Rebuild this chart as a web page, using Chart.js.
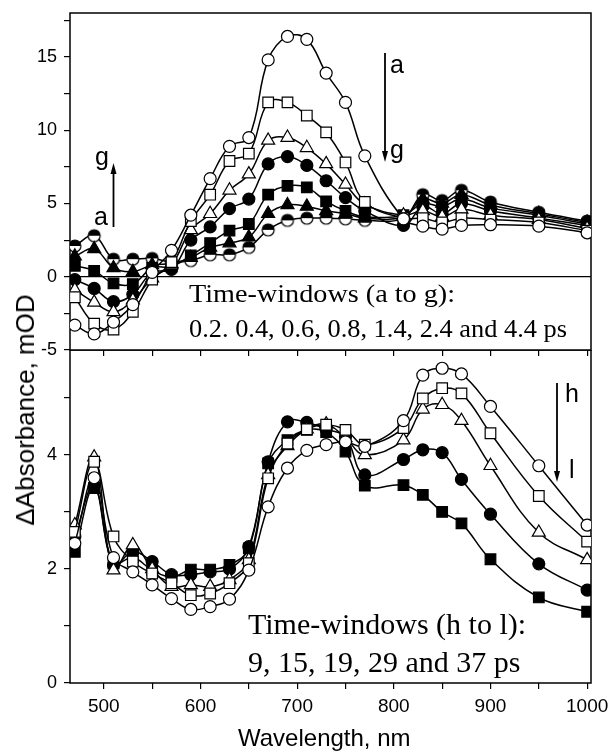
<!DOCTYPE html>
<html>
<head>
<meta charset="utf-8">
<script src="https://cdn.jsdelivr.net/npm/chart.js@4.4.0/dist/chart.umd.min.js"></script>
<style>
  body { margin: 0; background: #fff; }
  #wrap { position: relative; width: 610px; height: 754px; overflow: hidden; }
  canvas { position: absolute; left: 0; }
  #bottomChart { top: 350px; }
  #topChart { top: 0; }
</style>
</head>
<body>
<div id="wrap">
  <canvas id="bottomChart" width="610" height="404"></canvas>
  <canvas id="topChart" width="610" height="362"></canvas>
</div>
<script>
// wavelengths, nm
const wavelength = [470, 490, 510, 530, 550, 570, 590, 610, 630, 650, 670, 690, 710, 730, 750, 770, 810, 830, 850, 870, 900, 950, 1000];

// upper panel, time-windows a..g (mOD)
const serA = [-3.3, -3.9, -3.1, -1.9, 0.3, 1.8, 4.2, 6.7, 8.9, 9.5, 14.8, 16.4, 16.2, 13.9, 11.9, 8.25, 3.95, 3.45, 3.25, 3.5, 3.55, 3.45, 3.0];
const serB = [-1.4, -3.2, -3.6, -2.4, -0.2, 1.0, 3.8, 5.6, 7.9, 8.4, 11.9, 11.9, 11.0, 9.85, 7.8, 5.1, 4.0, 4.0, 3.7, 4.0, 3.9, 3.7, 3.15];
const serC = [-0.9, -1.75, -2.4, -1.6, -0.1, 0.8, 3.2, 4.3, 5.9, 7.0, 9.3, 9.5, 8.8, 7.7, 6.3, 4.95, 4.2, 4.5, 4.1, 4.6, 4.2, 3.9, 3.3];
const serD = [-0.2, -0.8, -1.7, -1.2, 0.3, 0.5, 2.5, 3.4, 4.65, 5.3, 7.7, 8.2, 7.6, 6.55, 5.4, 4.5, 3.5, 4.8, 4.3, 5.0, 4.5, 4.0, 3.5];
const serE = [0.75, 0.4, -0.45, -0.5, 0.6, 0.7, 1.45, 2.3, 3.15, 3.6, 5.6, 6.2, 6.1, 5.15, 4.5, 4.1, 4.2, 5.0, 4.8, 5.3, 4.7, 4.2, 3.6];
const serF = [1.4, 1.9, 0.6, 0.35, 0.8, 0.9, 1.3, 2.0, 2.3, 2.7, 4.3, 4.9, 4.8, 4.5, 4.3, 4.0, 4.1, 5.3, 5.0, 5.6, 4.9, 4.3, 3.7];
const serG = [2.1, 2.8, 1.2, 1.2, 1.25, 1.0, 1.1, 1.5, 1.5, 2.0, 3.2, 3.85, 4.0, 4.0, 3.95, 3.85, 4.0, 5.6, 5.2, 5.9, 5.1, 4.4, 3.8];

// lower panel, time-windows h..l (mOD)
const serH = [2.45, 3.6, 2.2, 1.95, 1.72, 1.48, 1.29, 1.34, 1.47, 1.98, 3.09, 3.77, 4.08, 4.18, 4.23, 4.15, 4.6, 5.4, 5.52, 5.42, 4.85, 3.81, 2.77];
const serI = [2.65, 3.88, 2.57, 2.13, 1.92, 1.75, 1.54, 1.57, 1.75, 2.1, 3.59, 4.2, 4.45, 4.53, 4.44, 4.18, 4.47, 4.99, 5.17, 5.08, 4.38, 3.28, 2.48];
const serJ = [2.77, 3.96, 1.98, 2.42, 2.0, 1.69, 1.72, 1.69, 1.81, 2.16, 3.65, 4.16, 4.45, 4.54, 4.3, 4.0, 4.26, 4.8, 4.88, 4.6, 3.81, 2.64, 2.16];
const serK = [2.57, 3.46, 2.07, 2.3, 2.13, 1.9, 1.9, 1.95, 2.0, 2.39, 3.88, 4.58, 4.57, 4.45, 4.32, 3.65, 3.92, 4.09, 4.04, 3.57, 2.96, 2.09, 1.63];
const serL = [2.3, 3.42, 2.1, 2.2, 1.98, 1.86, 1.99, 1.99, 2.07, 2.36, 3.85, 4.26, 4.44, 4.4, 4.06, 3.46, 3.47, 3.3, 3.0, 2.8, 2.17, 1.5, 1.25];

// tick labels
const xTickLabels = [500, 600, 700, 800, 900, 1000];
const yTickTop = [-5, 0, 5, 10, 15];
const yTickBottom = [0, 2, 4];

function halfCircle(r) {
  const c = document.createElement('canvas');
  const s = Math.ceil(2 * r + 4);
  c.width = s; c.height = s;
  const g = c.getContext('2d');
  const m = s / 2;
  g.fillStyle = '#fff';
  g.beginPath(); g.arc(m, m, r, 0, 2 * Math.PI); g.fill();
  g.fillStyle = '#000';
  g.beginPath(); g.arc(m, m, r, Math.PI, 2 * Math.PI); g.closePath(); g.fill();
  g.strokeStyle = '#000'; g.lineWidth = 1.2;
  g.beginPath(); g.arc(m, m, r, 0, 2 * Math.PI); g.stroke();
  return c;
}

function mkSet(values, style, filled, radius) {
  return {
    data: wavelength.map((w, i) => ({ x: w, y: values[i] })),
    borderColor: '#000',
    borderWidth: 1.5,
    tension: 0.4,
    pointStyle: style,
    pointRadius: radius,
    pointBackgroundColor: filled ? '#000' : '#fff',
    pointBorderColor: '#000',
    pointBorderWidth: 1.2
  };
}

// fixed axis boxes so both plot areas line up with the picture
function fixBox(size) {
  return s => {
    if (s.isHorizontal()) s.height = size; else s.width = size;
    s.paddingTop = 0; s.paddingBottom = 0; s.paddingLeft = 0; s.paddingRight = 0;
  };
}

const frame = {
  id: 'frame',
  beforeDatasetsDraw(chart) {
    const { ctx, chartArea: a } = chart;
    ctx.save();
    ctx.strokeStyle = '#000';
    ctx.lineWidth = 1.5;
    ctx.strokeRect(a.left, a.top, a.right - a.left, a.bottom - a.top);
    ctx.restore();
  }
};

// text notes and arrows, in canvas pixels
const notes = {
  id: 'notes',
  afterDraw(chart, args, opts) {
    const ctx = chart.ctx;
    ctx.save();
    ctx.fillStyle = '#000';
    ctx.strokeStyle = '#000';
    (opts.texts || []).forEach(t => {
      ctx.font = t.font;
      ctx.textBaseline = 'alphabetic';
      ctx.textAlign = 'left';
      const w = ctx.measureText(t.text).width;
      const sx = t.width ? t.width / w : 1;
      ctx.save();
      ctx.translate(t.x, t.y);
      ctx.scale(sx, 1);
      ctx.fillText(t.text, 0, 0);
      ctx.restore();
    });
    (opts.arrows || []).forEach(a => {
      const dir = a.y2 > a.y1 ? 1 : -1;
      ctx.lineWidth = 1.8;
      ctx.beginPath();
      ctx.moveTo(a.x, a.y1);
      ctx.lineTo(a.x, a.y2 - dir * 8);
      ctx.stroke();
      ctx.beginPath();
      ctx.moveTo(a.x, a.y2);
      ctx.lineTo(a.x - 3, a.y2 - dir * 11);
      ctx.lineTo(a.x + 3, a.y2 - dir * 11);
      ctx.closePath();
      ctx.fill();
    });
    ctx.restore();
  }
};

const sans = '"Liberation Sans", Arial, sans-serif';
const serif = '"Liberation Serif", "Times New Roman", serif';

new Chart(document.getElementById('topChart'), {
  type: 'line',
  data: {
    datasets: [
      mkSet(serA, 'circle', false, 6),
      mkSet(serB, 'rect', false, 7.5),
      mkSet(serC, 'triangle', false, 7.5),
      mkSet(serD, 'circle', true, 6),
      mkSet(serE, 'rect', true, 7.5),
      mkSet(serF, 'triangle', true, 7.5),
      mkSet(serG, halfCircle(6), false, 6)
    ]
  },
  options: {
    responsive: false,
    animation: false,
    layout: { autoPadding: false, padding: { top: 13, right: 19, left: 0, bottom: 0 } },
    scales: {
      x: {
        type: 'linear', min: 465, max: 1004,
        ticks: { display: false, stepSize: 50, includeBounds: false },
        grid: { drawOnChartArea: false, tickLength: 6, color: '#000', lineWidth: 1.2 },
        border: { display: false },
        afterFit: fixBox(12)
      },
      y: {
        min: -5, max: 18,
        ticks: {
          stepSize: 2.5, includeBounds: false, color: '#000', padding: 7,
          font: { family: sans, size: 18 },
          callback: v => yTickTop.includes(v) ? String(v) : ''
        },
        grid: {
          color: c => (c.tick && c.tick.value === 0) ? '#000' : 'rgba(0,0,0,0)',
          tickColor: '#000', tickLength: 6, lineWidth: 1.2
        },
        border: { display: false },
        afterFit: fixBox(70)
      }
    },
    plugins: {
      legend: { display: false },
      tooltip: { enabled: false },
      notes: {
        texts: [
          { text: 'Time-windows (a to g):', x: 189, y: 302, font: '25px ' + serif, width: 266 },
          { text: '0.2. 0.4, 0.6, 0.8, 1.4, 2.4 and 4.4 ps', x: 189, y: 337, font: '25px ' + serif, width: 378 },
          { text: 'g', x: 95, y: 165, font: '25px ' + sans },
          { text: 'a', x: 94, y: 225, font: '25px ' + sans },
          { text: 'a', x: 390, y: 73, font: '25px ' + sans },
          { text: 'g', x: 390, y: 158, font: '25px ' + sans }
        ],
        arrows: [
          { x: 113.5, y1: 227, y2: 163 },
          { x: 385, y1: 53, y2: 162 }
        ]
      }
    }
  },
  plugins: [frame, notes]
});

new Chart(document.getElementById('bottomChart'), {
  type: 'line',
  data: {
    datasets: [
      mkSet(serH, 'circle', false, 6),
      mkSet(serI, 'rect', false, 7.5),
      mkSet(serJ, 'triangle', false, 7.5),
      mkSet(serK, 'circle', true, 6),
      mkSet(serL, 'rect', true, 7.5)
    ]
  },
  options: {
    responsive: false,
    animation: false,
    layout: { autoPadding: false, padding: { top: 0, right: 19, left: 0, bottom: 0 } },
    scales: {
      x: {
        type: 'linear', min: 465, max: 1004,
        ticks: {
          stepSize: 50, includeBounds: false, color: '#000', padding: 6, maxRotation: 0, autoSkip: false,
          font: { family: sans, size: 19 },
          callback: v => xTickLabels.includes(v) ? String(v) : ''
        },
        grid: { drawOnChartArea: false, tickLength: 6, color: '#000', lineWidth: 1.2 },
        border: { display: false },
        afterFit: fixBox(71)
      },
      y: {
        min: 0, max: 5.84,
        ticks: {
          stepSize: 1, includeBounds: false, color: '#000', padding: 7,
          font: { family: sans, size: 18 },
          callback: v => yTickBottom.includes(v) ? String(v) : ''
        },
        grid: { drawOnChartArea: false, tickColor: '#000', color: '#000', tickLength: 6, lineWidth: 1.2 },
        border: { display: false },
        afterFit: fixBox(70)
      }
    },
    plugins: {
      legend: { display: false },
      tooltip: { enabled: false },
      notes: {
        texts: [
          { text: 'Time-windows (h to l):', x: 248, y: 634 - 350, font: '30px ' + serif },
          { text: '9, 15, 19, 29 and 37 ps', x: 248, y: 672 - 350, font: '30px ' + serif },
          { text: 'h', x: 565, y: 402 - 350, font: '25px ' + sans },
          { text: 'l', x: 569, y: 478 - 350, font: '25px ' + sans },
          { text: 'Wavelength, nm', x: 238, y: 746 - 350, font: '24px ' + sans }
        ],
        arrows: [
          { x: 557, y1: 383, y2: 482 }
        ].map(a => ({ x: a.x, y1: a.y1 - 350, y2: a.y2 - 350 }))
      }
    }
  },
  plugins: [frame, notes]
});

// vertical axis title across both panels
(function () {
  const d = document.createElement('div');
  d.textContent = 'ΔAbsorbance, mOD';
  d.style.cssText = 'position:absolute;left:25px;top:410px;font:26px ' + sans +
    ';color:#000;white-space:nowrap;line-height:1;transform:translate(-50%,-50%) rotate(-90deg);';
  document.getElementById('wrap').appendChild(d);
})();
</script>
</body>
</html>
